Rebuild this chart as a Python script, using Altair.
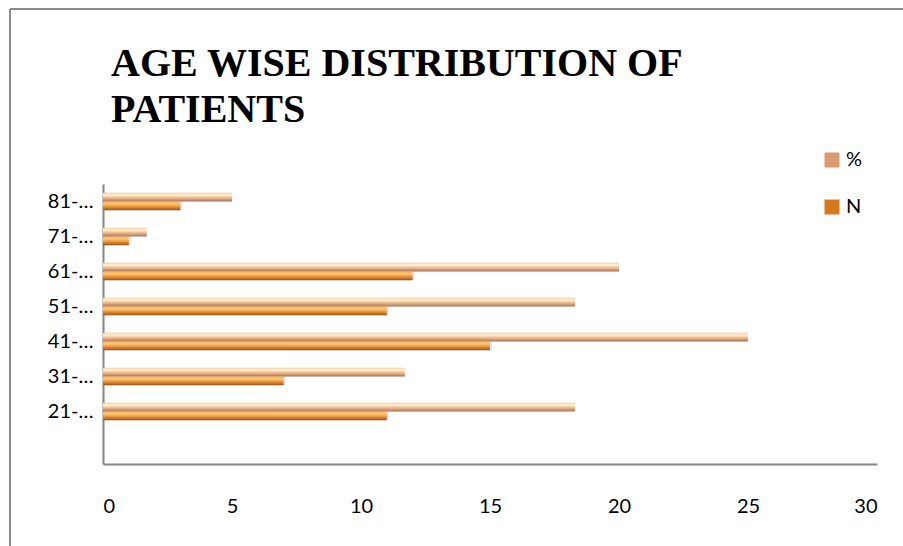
import altair as alt
import pandas as pd

# ---- data ----
age_groups = ["21-…", "31-…", "41-…", "51-…", "61-…", "71-…", "81-…"]
n_values = [11, 7, 15, 11, 12, 1, 3]
pct_values = [18.3, 11.7, 25, 18.3, 20, 1.7, 5]
series_names = ["%", "N"]
x_ticks = [0, 5, 10, 15, 20, 25, 30]

rows = []
for g, n, p in zip(age_groups, n_values, pct_values):
    rows.append({"age": g, "series": "%", "value": p})
    rows.append({"age": g, "series": "N", "value": n})
df = pd.DataFrame(rows)

# top-to-bottom order, with Excel's empty slot at the bottom
y_domain = list(reversed(age_groups)) + [" "]

pct_grad = alt.LinearGradient(
    gradient="linear", x1=0, x2=0, y1=0, y2=1,
    stops=[
        alt.GradientStop(color="#F6C89A", offset=0),
        alt.GradientStop(color="#FFF4DA", offset=0.25),
        alt.GradientStop(color="#F2BE8C", offset=0.55),
        alt.GradientStop(color="#C48C70", offset=0.85),
        alt.GradientStop(color="#9E6E5A", offset=1),
    ],
)
n_grad = alt.LinearGradient(
    gradient="linear", x1=0, x2=0, y1=0, y2=1,
    stops=[
        alt.GradientStop(color="#F2A44E", offset=0),
        alt.GradientStop(color="#FFCB78", offset=0.25),
        alt.GradientStop(color="#EE9A3C", offset=0.55),
        alt.GradientStop(color="#BC6A24", offset=0.85),
        alt.GradientStop(color="#8E4A16", offset=1),
    ],
)

y_enc = alt.Y(
    "age:N",
    scale=alt.Scale(domain=y_domain, paddingInner=0.5, paddingOuter=0.25),
    axis=alt.Axis(
        title=None, ticks=False, labelPadding=10, labelFontSize=20,
        labelFont="Lato", labelColor="#000000", domainColor="#868686",
        domainWidth=2, grid=False,
    ),
)
x_enc = alt.X(
    "value:Q",
    scale=alt.Scale(domain=[0, 30], nice=False),
    axis=alt.Axis(
        title=None, values=x_ticks, ticks=False, labelPadding=32,
        labelFontSize=20, labelFont="Lato", labelColor="#000000",
        domainColor="#868686", domainWidth=2, grid=False,
    ),
)
yoff = alt.YOffset("series:N", scale=alt.Scale(domain=series_names, paddingInner=0))

base = alt.Chart(df)

shadow1 = base.transform_filter(alt.datum.series == "N").mark_bar(
    color="#000000", opacity=0.07, yOffset=4, xOffset=2
).encode(x=x_enc, y=y_enc, yOffset=yoff)
shadow2 = base.transform_filter(alt.datum.series == "N").mark_bar(
    color="#000000", opacity=0.04, yOffset=8, xOffset=2
).encode(x=x_enc, y=y_enc, yOffset=yoff)

pct_bars = base.transform_filter(alt.datum.series == "%").mark_bar(
    color=pct_grad
).encode(x=x_enc, y=y_enc, yOffset=yoff)

n_bars = base.transform_filter(alt.datum.series == "N").mark_bar(
    color=n_grad
).encode(x=x_enc, y=y_enc, yOffset=yoff)

legend_layer = base.mark_square(opacity=0).encode(
    x=x_enc,
    y=y_enc,
    color=alt.Color(
        "series:N",
        scale=alt.Scale(domain=series_names, range=["#D99A70", "#D7781F"]),
        legend=alt.Legend(
            title=None, orient="none", legendX=719, legendY=-34,
            symbolType="square", symbolSize=225, symbolOpacity=1,
            symbolStrokeWidth=0, labelFontSize=20, labelFont="Lato",
            labelColor="#000000", rowPadding=27, labelOffset=4,
        ),
    ),
)

frame_left = alt.Chart(df).mark_rule(color="#8C8C8C", strokeWidth=2).encode(
    x=alt.value(-93), y=alt.value(-175), y2=alt.value(380)
)
frame_top = alt.Chart(df).mark_rule(color="#8C8C8C", strokeWidth=2).encode(
    x=alt.value(-93), x2=alt.value(820), y=alt.value(-175)
)

chart = alt.layer(
    frame_left, frame_top, shadow2, shadow1, pct_bars, n_bars, legend_layer
).properties(
    width=774,
    height=280,
    autosize=alt.AutoSizeParams(type="none"),
    padding={"left": 103, "top": 184, "right": 26, "bottom": 82},
    title=alt.TitleParams(
        text=["AGE WISE DISTRIBUTION OF", "PATIENTS"],
        anchor="start", frame="group", font="Liberation Serif",
        fontSize=40, fontWeight="bold", color="#000000",
        lineHeight=46, offset=0, dx=8, dy=122,
    ),
).configure(background="white", view=alt.ViewConfig(stroke=None))

chart.save("out.html", embed_options={"renderer": "svg", "actions": False})
